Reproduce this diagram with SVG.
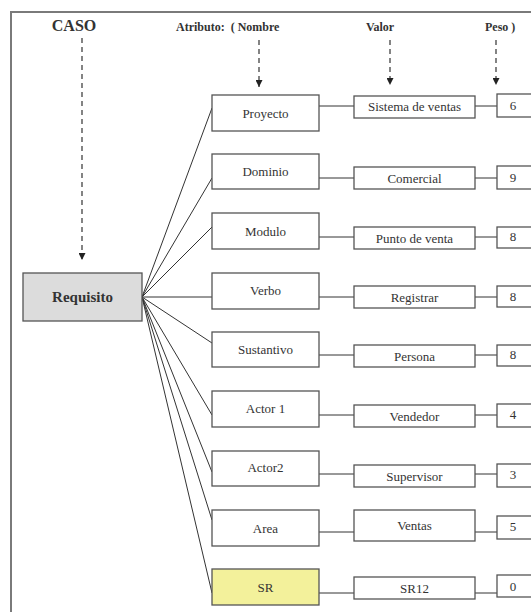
<svg xmlns="http://www.w3.org/2000/svg" width="531" height="612" viewBox="0 0 531 612">
<style>
  .frame{fill:none;stroke:#7a7a7a;stroke-width:2}
  .box{fill:#fff;stroke:#555;stroke-width:1.3}
  .ln{stroke:#333;stroke-width:1;fill:none}
  .dash{stroke:#333;stroke-width:1.2;stroke-dasharray:5,4;fill:none}
  text{font-family:"Liberation Serif","Times New Roman","DejaVu Serif",serif}
  .t{font-size:13px;fill:#333;text-anchor:middle;dominant-baseline:central}
  .h{font-weight:bold;fill:#333}
</style>
<defs>
  <marker id="ah" viewBox="0 0 10 10" refX="10" refY="5" markerWidth="7" markerHeight="7" markerUnits="userSpaceOnUse" orient="auto">
    <path d="M0,0 L10,5 L0,10 z" fill="#222"/>
  </marker>
</defs>
<rect width="531" height="612" fill="#fff"/>
<rect class="frame" x="11" y="12" width="600" height="700"/>

<g id="headers">
  <text class="h" x="74" y="31" font-size="16" text-anchor="middle">CASO</text>
  <text class="h" x="176" y="31" font-size="12" xml:space="preserve">Atributo:  ( Nombre</text>
  <text class="h" x="380" y="31" font-size="12" text-anchor="middle">Valor</text>
  <text class="h" x="485" y="31" font-size="12">Peso )</text>
</g>

<g id="connectors">
  <line class="dash" x1="82" y1="38" x2="82" y2="260" marker-end="url(#ah)"/>
  <line class="dash" x1="259" y1="40" x2="259" y2="87" marker-end="url(#ah)"/>
  <line class="dash" x1="390" y1="40" x2="390" y2="85" marker-end="url(#ah)"/>
  <line class="dash" x1="496" y1="40" x2="496" y2="85" marker-end="url(#ah)"/>
  <line class="ln" x1="142" y1="297" x2="212" y2="108"/>
  <line class="ln" x1="142" y1="297" x2="212" y2="178"/>
  <line class="ln" x1="142" y1="297" x2="212" y2="227"/>
  <line class="ln" x1="142" y1="297" x2="212" y2="297"/>
  <line class="ln" x1="142" y1="297" x2="212" y2="343"/>
  <line class="ln" x1="142" y1="297" x2="212" y2="415"/>
  <line class="ln" x1="142" y1="297" x2="212" y2="472"/>
  <line class="ln" x1="142" y1="297" x2="212" y2="520"/>
  <line class="ln" x1="142" y1="297" x2="212" y2="593"/>
  <line class="ln" x1="319" y1="106" x2="354" y2="106"/>
  <line class="ln" x1="319" y1="178" x2="354" y2="178"/>
  <line class="ln" x1="319" y1="237" x2="354" y2="237"/>
  <line class="ln" x1="319" y1="297" x2="354" y2="297"/>
  <line class="ln" x1="319" y1="355" x2="354" y2="355"/>
  <line class="ln" x1="319" y1="415" x2="354" y2="415"/>
  <line class="ln" x1="319" y1="474" x2="354" y2="474"/>
  <line class="ln" x1="319" y1="532" x2="354" y2="532"/>
  <line class="ln" x1="319" y1="593" x2="354" y2="593"/>
  <line class="ln" x1="475" y1="106" x2="497" y2="106"/>
  <line class="ln" x1="475" y1="178" x2="497" y2="178"/>
  <line class="ln" x1="475" y1="237" x2="497" y2="237"/>
  <line class="ln" x1="475" y1="297" x2="497" y2="297"/>
  <line class="ln" x1="475" y1="355" x2="497" y2="355"/>
  <line class="ln" x1="475" y1="415" x2="497" y2="415"/>
  <line class="ln" x1="475" y1="474" x2="497" y2="474"/>
  <line class="ln" x1="475" y1="532" x2="497" y2="532"/>
  <line class="ln" x1="475" y1="593" x2="497" y2="593"/>
</g>

<g id="requisito">
  <rect x="23" y="273" width="119" height="48" fill="#dcdcdc" stroke="#555" stroke-width="1.3"/>
  <text class="h" x="82.5" y="297" font-size="15" text-anchor="middle" dominant-baseline="central">Requisito</text>
</g>

<g id="n-proyecto"><rect class="box" x="212" y="95" width="107" height="36"/><text class="t" x="265.5" y="113">Proyecto</text></g>
<g id="n-dominio"><rect class="box" x="212" y="154" width="107" height="35"/><text class="t" x="265.5" y="171">Dominio</text></g>
<g id="n-modulo"><rect class="box" x="212" y="213" width="107" height="36"/><text class="t" x="265.5" y="231">Modulo</text></g>
<g id="n-verbo"><rect class="box" x="212" y="273" width="107" height="36"/><text class="t" x="265.5" y="290">Verbo</text></g>
<g id="n-sustantivo"><rect class="box" x="212" y="332" width="107" height="35"/><text class="t" x="265.5" y="349">Sustantivo</text></g>
<g id="n-actor1"><rect class="box" x="212" y="391" width="107" height="36"/><text class="t" x="265.5" y="408">Actor 1</text></g>
<g id="n-actor2"><rect class="box" x="212" y="451" width="107" height="35"/><text class="t" x="265.5" y="467">Actor2</text></g>
<g id="n-area"><rect class="box" x="212" y="510" width="107" height="36"/><text class="t" x="265.5" y="528">Area</text></g>
<g id="n-sr"><rect x="212" y="569" width="107" height="36" fill="#f3f19b" stroke="#555" stroke-width="1.3"/><text class="t" x="265.5" y="587">SR</text></g>

<g id="v-proyecto"><rect class="box" x="354" y="96" width="121" height="22"/><text class="t" x="414.5" y="106">Sistema de ventas</text></g>
<g id="v-dominio"><rect class="box" x="354" y="167" width="121" height="22"/><text class="t" x="414.5" y="178">Comercial</text></g>
<g id="v-modulo"><rect class="box" x="354" y="227" width="121" height="22"/><text class="t" x="414.5" y="238">Punto de venta</text></g>
<g id="v-verbo"><rect class="box" x="354" y="286" width="121" height="22"/><text class="t" x="414.5" y="297">Registrar</text></g>
<g id="v-sustantivo"><rect class="box" x="354" y="345" width="121" height="22"/><text class="t" x="414.5" y="356">Persona</text></g>
<g id="v-actor1"><rect class="box" x="354" y="405" width="121" height="22"/><text class="t" x="414.5" y="416">Vendedor</text></g>
<g id="v-actor2"><rect class="box" x="354" y="465" width="121" height="22"/><text class="t" x="414.5" y="476">Supervisor</text></g>
<g id="v-area"><rect class="box" x="354" y="510" width="121" height="31"/><text class="t" x="414.5" y="525">Ventas</text></g>
<g id="v-sr"><rect class="box" x="354" y="577" width="121" height="22"/><text class="t" x="414.5" y="588">SR12</text></g>

<g id="w-proyecto"><rect class="box" x="497" y="94" width="45" height="23"/><text class="t" x="513" y="105">6</text></g>
<g id="w-dominio"><rect class="box" x="497" y="166" width="45" height="23"/><text class="t" x="513" y="177">9</text></g>
<g id="w-modulo"><rect class="box" x="497" y="227" width="45" height="21"/><text class="t" x="513" y="236">8</text></g>
<g id="w-verbo"><rect class="box" x="497" y="286" width="45" height="21"/><text class="t" x="513" y="296">8</text></g>
<g id="w-sustantivo"><rect class="box" x="497" y="345" width="45" height="21"/><text class="t" x="513" y="354">8</text></g>
<g id="w-actor1"><rect class="box" x="497" y="404" width="45" height="23"/><text class="t" x="513" y="414">4</text></g>
<g id="w-actor2"><rect class="box" x="497" y="464" width="45" height="23"/><text class="t" x="513" y="474">3</text></g>
<g id="w-area"><rect class="box" x="497" y="516" width="45" height="23"/><text class="t" x="513" y="526">5</text></g>
<g id="w-sr"><rect class="box" x="497" y="575" width="45" height="22"/><text class="t" x="513" y="586">0</text></g>
</svg>
